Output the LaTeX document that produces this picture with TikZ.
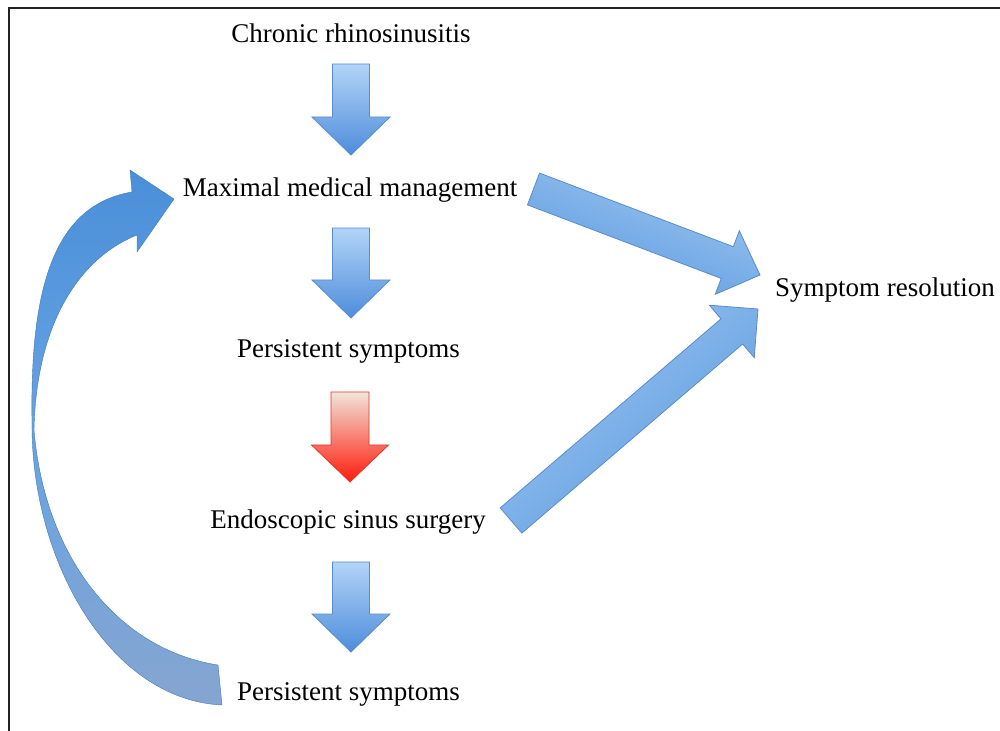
\documentclass[tikz,border=0pt]{standalone}
\usepackage{fontspec}
\setmainfont{Liberation Serif}
\usetikzlibrary{calc}
\definecolor{frameline}{HTML}{222222}
\definecolor{bluetop}{HTML}{B2D4F7}
\definecolor{bluebot}{HTML}{4E8DDB}
\definecolor{blueedge}{HTML}{5A8CCB}
\definecolor{slanttop}{HTML}{9CC7F3}
\definecolor{slantbot}{HTML}{5C98DC}
\definecolor{redtop}{HTML}{F1E4DA}
\definecolor{redbot}{HTML}{FF1B0B}
\definecolor{rededge}{HTML}{E2382A}
\definecolor{curvetop}{HTML}{4A8FD9}
\definecolor{curvemid}{HTML}{68A3E3}
\definecolor{curvebot}{HTML}{86A5D0}

% block arrow: [style]{tail}{tip}{half shaft}{half head}{head length}
\newcommand{\blockarrow}[6][]{%
  \coordinate (hb) at ($(#3)!#6!(#2)$);
  \shade[#1] ($(#2)!#4!90:(#3)$) -- ($(hb)!#4!90:(#3)$) -- ($(hb)!#5!90:(#3)$)
    -- (#3) -- ($(hb)!#5!-90:(#3)$) -- ($(hb)!#4!-90:(#3)$)
    -- ($(#2)!#4!-90:(#3)$) -- cycle;}

\begin{document}
\begin{tikzpicture}[
        x=0.5pt, y=-0.5pt,
        stage/.style={anchor=base, inner sep=0pt,
                      font=\fontsize{13.5}{16}\selectfont},
        downarrow/.style={draw=blueedge, line width=0.4pt,
                          top color=bluetop, bottom color=bluebot},
        redarrow/.style={draw=rededge, line width=0.4pt,
                         top color=redtop, bottom color=redbot},
        slantarrow/.style={draw=blueedge, line width=0.4pt,
                           top color=slanttop, bottom color=slantbot,
                           shading angle=#1},
        curvearrow/.style={draw=curvetop!85!black, line width=0.2pt,
                           top color=curvetop, bottom color=curvebot,
                           middle color=curvemid},
        frame/.style={draw=frameline, line width=1pt}
      ]
        \useasboundingbox (0,0) rectangle (1000,731);
        \draw[frame] (9,731) -- (9,8) -- (1000,8);

        \node[stage] (chronic)  at (351,43)   {Chronic rhinosinusitis};
        \node[stage] (maximal)  at (350,197)  {Maximal medical management};
        \node[stage] (persist1) at (348.5,358) {Persistent symptoms};
        \node[stage] (endo)     at (348,528)  {Endoscopic sinus surgery};
        \node[stage] (persist2) at (348.5,700) {Persistent symptoms};
        \node[stage] (resolved) at (885,297)  {Symptom resolution};

        \coordinate (d1a) at (351,64);  \coordinate (d1b) at (351,155);
        \coordinate (d2a) at (351,228); \coordinate (d2b) at (351,318);
        \coordinate (d3a) at (350,392); \coordinate (d3b) at (350,482);
        \coordinate (d4a) at (351,562); \coordinate (d4b) at (351,652);
        \coordinate (s1a) at (533.5,189); \coordinate (s1b) at (760,275);
        \coordinate (s2a) at (511,520.5); \coordinate (s2b) at (758,309);

        \blockarrow[downarrow]{d1a}{d1b}{9.25pt}{19.5pt}{19pt}
        \blockarrow[downarrow]{d2a}{d2b}{9.25pt}{19.5pt}{19pt}
        \blockarrow[redarrow]{d3a}{d3b}{9.5pt}{19.25pt}{18.5pt}
        \blockarrow[downarrow]{d4a}{d4b}{9.25pt}{19.5pt}{19pt}
        \blockarrow[slantarrow=-20.8]{s1a}{s1b}{8.5pt}{17pt}{17.5pt}
        \blockarrow[slantarrow=40.6]{s2a}{s2b}{8.3pt}{17.25pt}{17.25pt}

        % loop back from the second persistent symptoms
        \shade[curvearrow] (132,192) .. controls (55,205) and (30,285) .. (32,420)
          .. controls (30,560) and (110,700) .. (222,705)
          -- (218,665) .. controls (120,650) and (45,560) .. (34,430)
          .. controls (36,330) and (75,260) .. (137,235)
          -- (137,252) -- (174,199) -- (130,170) -- cycle;
      \end{tikzpicture}
\end{document}
